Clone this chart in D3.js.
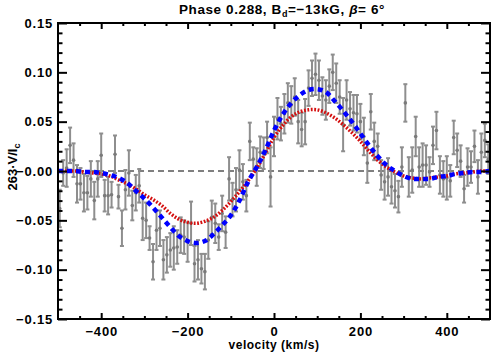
<!DOCTYPE html>
<html>
<head>
<meta charset="utf-8">
<script src="https://cdn.jsdelivr.net/npm/d3@7"></script>
<style>
  body { margin: 0; background: #fff; }
  text { font-family: "Liberation Sans", Arial, sans-serif; font-weight: bold; fill: #000; }
</style>
</head>
<body>
<div class="chart"></div>
<script>
// Stokes V profile, phase 0.288 : observed points with error bars + two model curves

// observed velocities (km/s)
var velocity = [
  -496,-488,-480,-472,-464,-456,-448,-440,-432,-424,
  -416,-408,-400,-392,-384,-376,-368,-360,-352,-344,
  -336,-328,-320,-312,-304,-296,-288,-280,-272,-264,
  -256,-248,-240,-232,-224,-216,-208,-200,-192,-184,
  -176,-168,-160,-152,-144,-136,-128,-120,-112,-104,
  -96,-88,-80,-72,-64,-56,-48,-40,-32,-24,
  -16,-8,0,8,16,24,32,40,48,56,
  64,72,80,88,96,104,112,120,128,136,
  144,152,160,168,176,184,192,200,208,216,
  224,232,240,248,256,264,272,280,288,296,
  304,312,320,328,336,344,352,360,368,376,
  384,392,400,408,416,424,432,440,448,456,
  464,472,480,488,496
];
// observed 263*V/Ic
var stokesV = [
  -0.038,-0.002,0.003,0.026,0.011,-0.013,-0.013,-0.022,-0.022,-0.008,
  -0.030,-0.008,0.016,-0.025,-0.025,-0.024,0.017,-0.026,-0.058,-0.019,
  -0.002,-0.035,-0.022,-0.015,-0.048,-0.050,-0.068,-0.092,-0.060,-0.058,
  -0.090,-0.085,-0.080,-0.078,-0.077,-0.065,-0.067,-0.072,-0.053,-0.094,
  -0.090,-0.099,-0.102,-0.070,-0.047,-0.053,-0.067,-0.043,-0.062,-0.008,
  -0.029,-0.019,0.001,-0.011,-0.025,0.030,0.012,0.004,0.019,0.018,
  0.034,-0.006,0.035,0.053,0.048,0.058,0.069,0.067,0.075,0.050,
  0.042,0.050,0.084,0.094,0.098,0.092,0.076,0.072,0.086,0.100,
  0.089,0.075,0.047,0.072,0.063,0.059,0.058,0.050,0.035,0.008,
  0.060,0.030,0.025,-0.004,-0.011,-0.006,-0.016,-0.020,-0.026,0.004,
  0.069,-0.006,0.001,0.035,0.004,0.006,0.006,-0.001,0.026,0.041,
  -0.004,-0.008,-0.007,-0.010,0.034,0.021,0.010,-0.018,0.004,0.004,
  0.025,-0.006,0.019,0.031,0.012
];
// 1-sigma errors
var stokesErr = [
  0.019,0.013,0.019,0.018,0.017,0.019,0.016,0.019,0.017,0.018,
  0.019,0.018,0.022,0.016,0.019,0.013,0.019,0.012,0.018,0.020,
  0.023,0.015,0.018,0.017,0.022,0.018,0.012,0.018,0.020,0.018,
  0.020,0.018,0.017,0.022,0.017,0.018,0.017,0.020,0.022,0.018,
  0.020,0.015,0.018,0.019,0.017,0.020,0.013,0.018,0.016,0.022,
  0.017,0.022,0.020,0.018,0.016,0.019,0.012,0.019,0.016,0.016,
  0.016,0.030,0.020,0.021,0.017,0.020,0.020,0.019,0.019,0.022,
  0.017,0.023,0.018,0.018,0.021,0.020,0.019,0.020,0.017,0.018,
  0.020,0.017,0.027,0.020,0.017,0.018,0.019,0.018,0.019,0.020,
  0.018,0.019,0.013,0.015,0.018,0.019,0.017,0.017,0.016,0.020,
  0.019,0.020,0.023,0.020,0.020,0.022,0.020,0.015,0.019,0.019,
  0.019,0.018,0.022,0.016,0.017,0.017,0.016,0.014,0.019,0.016,
  0.016,0.017,0.019,0.017,0.015
];

// model curves sampled every 20 km/s
var modelVel = [
  -500,-480,-460,-440,-420,-400,-380,-360,-340,-320,
  -300,-280,-260,-240,-220,-200,-180,-160,-140,-120,
  -100,-80,-60,-40,-20,0,20,40,60,80,
  100,120,140,160,180,200,220,240,260,280,
  300,320,340,360,380,400,420,440,460,480,500
];
var modelBlue = [
  0.000,0.000,0.000,-0.001,-0.001,-0.002,-0.004,-0.007,-0.012,-0.020,
  -0.028,-0.037,-0.047,-0.057,-0.066,-0.071,-0.073,-0.071,-0.064,-0.055,
  -0.045,-0.030,-0.011,0.004,0.021,0.041,0.057,0.069,0.077,0.082,
  0.083,0.080,0.071,0.061,0.050,0.038,0.026,0.015,0.006,0.000,
  -0.005,-0.008,-0.008,-0.008,-0.006,-0.005,-0.003,-0.002,-0.001,-0.001,0.000
];
var modelRed = [
  0.000,0.000,0.000,-0.001,-0.002,-0.003,-0.005,-0.009,-0.013,-0.018,
  -0.024,-0.029,-0.035,-0.043,-0.049,-0.052,-0.053,-0.051,-0.047,-0.040,
  -0.031,-0.021,-0.010,0.003,0.018,0.034,0.046,0.055,0.060,0.062,
  0.062,0.059,0.054,0.047,0.039,0.030,0.020,0.011,0.004,-0.001,
  -0.005,-0.007,-0.008,-0.007,-0.006,-0.005,-0.003,-0.002,-0.001,0.000,0.000
];

// tick values / labels
var xMajor = [-400, -200, 0, 200, 400];
var xMinor = [-450,-350,-300,-250,-150,-100,-50,50,100,150,250,300,350,450];
var yMajor = [-0.15, -0.10, -0.05, 0.00, 0.05, 0.10, 0.15];
var yMajorLabels = ["\u22120.15", "\u22120.10", "\u22120.05", "\u22120.00", "0.05", "0.10", "0.15"];
var yMinor = [-0.14,-0.13,-0.12,-0.11,-0.09,-0.08,-0.07,-0.06,-0.04,-0.03,-0.02,-0.01,
  0.01,0.02,0.03,0.04,0.06,0.07,0.08,0.09,0.11,0.12,0.13,0.14];

var svgWidth = 504, svgHeight = 360;
var margin = {top: 23, right: 14, bottom: 41, left: 58};
var width = svgWidth - margin.left - margin.right;
var height = svgHeight - margin.top - margin.bottom;

var svg = d3.select(".chart").append("svg").attr("width", svgWidth).attr("height", svgHeight);
var chartGroup = svg.append("g").attr("transform", `translate(${margin.left}, ${margin.top})`);

var xScale = d3.scaleLinear().domain([-500, 500]).range([0, width]);
var yScale = d3.scaleLinear().domain([-0.15, 0.15]).range([height, 0]);

// zero line
chartGroup.append("line")
  .attr("x1", 0).attr("x2", width)
  .attr("y1", yScale(0)).attr("y2", yScale(0))
  .attr("stroke", "#000").attr("stroke-width", 1).attr("stroke-dasharray", "6,4");

// error bars
var obs = velocity.map(function(v, i) { return {v: v, s: stokesV[i], e: stokesErr[i]}; });
var grey = "#8e8e8e";
var bars = chartGroup.append("g").attr("stroke", grey).attr("stroke-width", 2).attr("fill", "none");
bars.selectAll(".ebar").data(obs).enter().append("line")
  .attr("x1", d => xScale(d.v)).attr("x2", d => xScale(d.v))
  .attr("y1", d => yScale(d.s - d.e)).attr("y2", d => yScale(d.s + d.e));
bars.selectAll(".capTop").data(obs).enter().append("line")
  .attr("x1", d => xScale(d.v) - 2).attr("x2", d => xScale(d.v) + 2)
  .attr("y1", d => yScale(d.s + d.e)).attr("y2", d => yScale(d.s + d.e));
bars.selectAll(".capBot").data(obs).enter().append("line")
  .attr("x1", d => xScale(d.v) - 2).attr("x2", d => xScale(d.v) + 2)
  .attr("y1", d => yScale(d.s - d.e)).attr("y2", d => yScale(d.s - d.e));
chartGroup.append("g").selectAll("circle").data(obs).enter().append("circle")
  .attr("cx", d => xScale(d.v)).attr("cy", d => yScale(d.s)).attr("r", 1.8)
  .attr("fill", "#7a7a7a");

// model curves
var line = d3.line().x(d => xScale(d[0])).y(d => yScale(d[1])).curve(d3.curveCatmullRom);
chartGroup.append("path")
  .datum(modelVel.map((v, i) => [v, modelRed[i]]))
  .attr("d", line).attr("fill", "none")
  .attr("stroke", "#d40f0f").attr("stroke-width", 3.5).attr("stroke-dasharray", "1.8,1.6");
chartGroup.append("path")
  .datum(modelVel.map((v, i) => [v, modelBlue[i]]))
  .attr("d", line).attr("fill", "none")
  .attr("stroke", "#0000ff").attr("stroke-width", 4.5).attr("stroke-dasharray", "5,4");

// axes (ticks point inward on all four sides)
function styleAxis(g) {
  g.select(".domain").remove();
  g.selectAll(".tick line").attr("stroke", "#000").attr("stroke-width", 2);
  g.selectAll("text").style("font-size", "13px").style("letter-spacing", "0.8px")
    .style("font-family", "'Liberation Sans', Arial, sans-serif").style("font-weight", "bold");
}
chartGroup.append("g").attr("transform", `translate(0, ${height})`)
  .call(d3.axisBottom(xScale).tickValues(xMajor).tickSize(-6).tickPadding(8)
    .tickFormat(d => d < 0 ? "\u2212" + Math.abs(d) : d)).call(styleAxis);
chartGroup.append("g").attr("transform", `translate(0, ${height})`)
  .call(d3.axisBottom(xScale).tickValues(xMinor).tickSize(-3).tickFormat("")).call(styleAxis);
chartGroup.append("g")
  .call(d3.axisTop(xScale).tickValues(xMajor).tickSize(-6).tickFormat("")).call(styleAxis);
chartGroup.append("g")
  .call(d3.axisTop(xScale).tickValues(xMinor).tickSize(-3).tickFormat("")).call(styleAxis);
chartGroup.append("g")
  .call(d3.axisLeft(yScale).tickValues(yMajor).tickSize(-9).tickPadding(5)
    .tickFormat((d, i) => yMajorLabels[i])).call(styleAxis);
chartGroup.append("g")
  .call(d3.axisLeft(yScale).tickValues(yMinor).tickSize(-4.5).tickFormat("")).call(styleAxis);
chartGroup.append("g").attr("transform", `translate(${width}, 0)`)
  .call(d3.axisRight(yScale).tickValues(yMajor).tickSize(-9).tickFormat("")).call(styleAxis);
chartGroup.append("g").attr("transform", `translate(${width}, 0)`)
  .call(d3.axisRight(yScale).tickValues(yMinor).tickSize(-4.5).tickFormat("")).call(styleAxis);

// frame
chartGroup.append("rect").attr("width", width).attr("height", height)
  .attr("fill", "none").attr("stroke", "#000").attr("stroke-width", 2);

// axis titles
svg.append("text").attr("x", margin.left + width / 2).attr("y", 349)
  .attr("text-anchor", "middle").style("font-size", "12px").style("letter-spacing", "0.5px")
  .text("velocity (km/s)");

var yTitle = svg.append("text").attr("transform", "translate(17, 167) rotate(-90)")
  .attr("text-anchor", "middle").style("font-size", "13px");
yTitle.append("tspan").text("263\u00b7V/I");
yTitle.append("tspan").attr("dy", 3).style("font-size", "9px").text("c");

// title
var title = svg.append("text").attr("x", 282).attr("y", 14)
  .attr("text-anchor", "middle").style("font-size", "13.5px").style("letter-spacing", "0.6px");
title.append("tspan").text("Phase 0.288, B");
title.append("tspan").attr("dy", 3).style("font-size", "9px").text("d");
title.append("tspan").attr("dy", -3).text("=\u221213kG, ");
title.append("tspan").style("font-style", "italic").text("\u03b2");
title.append("tspan").text("= 6\u00b0");
</script>
</body>
</html>
